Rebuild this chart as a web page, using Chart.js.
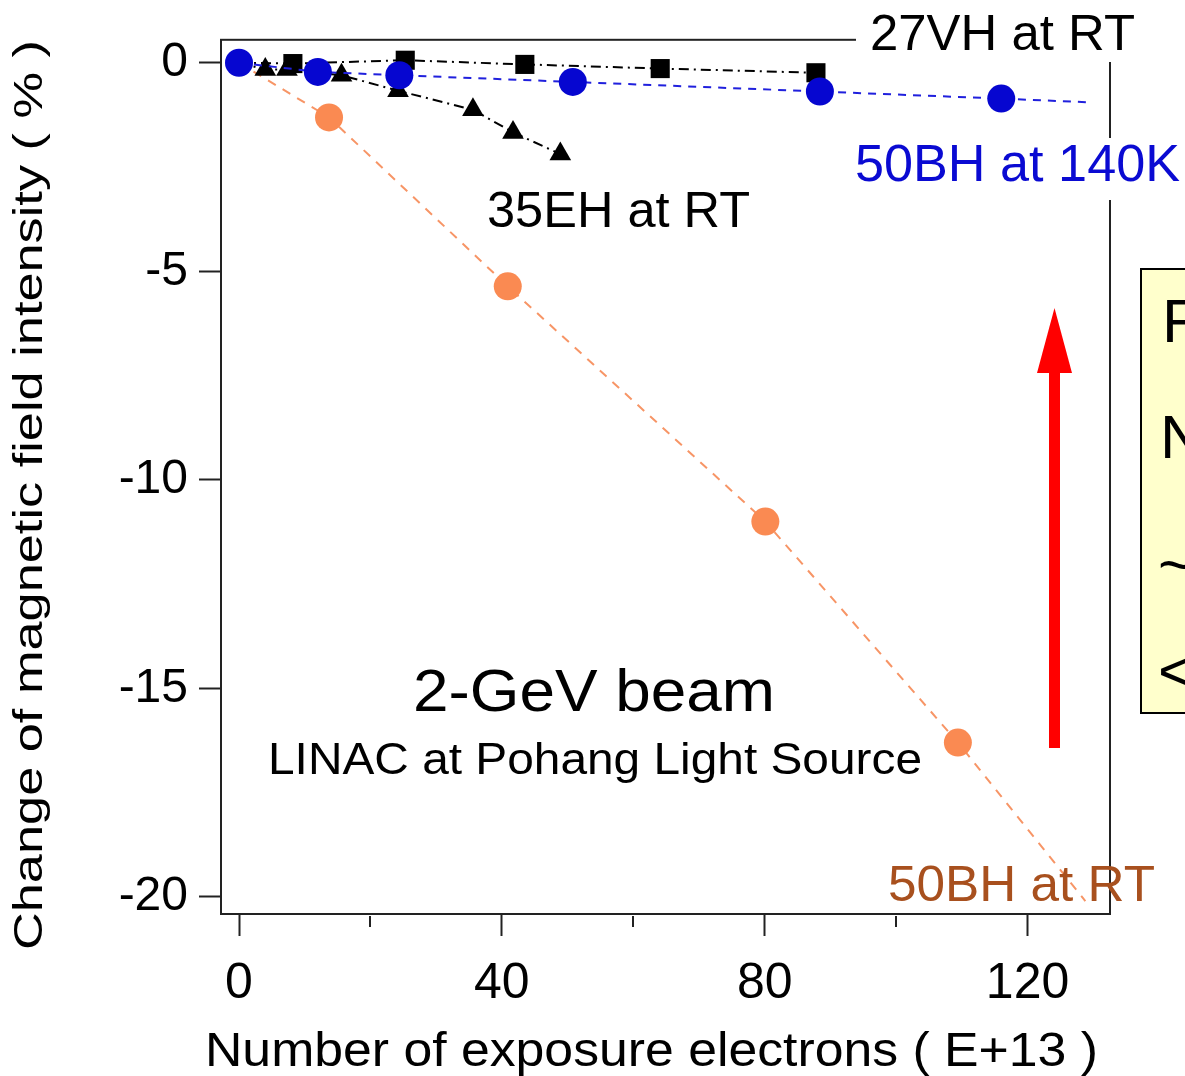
<!DOCTYPE html>
<html>
<head>
<meta charset="utf-8">
<script src="https://cdn.jsdelivr.net/npm/chart.js@4.4.1/dist/chart.umd.min.js"></script>
<style>
html,body{margin:0;padding:0;background:#fff;overflow:hidden}
canvas{display:block}
</style>
</head>
<body>
<canvas id="magChart" width="1185" height="1076"></canvas>
<script>
// exposure (E+13 electrons) vs change of field (%)
var origin = [0, 0];

var vh27X = [8.2, 25.3, 43.5, 64.1, 87.8];
var vh27Y = [-0.02, 0.06, -0.04, -0.14, -0.24];

var eh35X = [4.0, 7.3, 15.6, 24.2, 35.6, 41.7, 48.9];
var eh35Y = [-0.16, -0.16, -0.30, -0.67, -1.13, -1.67, -2.19];

var bh140X = [0, 12.0, 24.4, 50.8, 88.4, 116.0];
var bh140Y = [0, -0.22, -0.30, -0.46, -0.69, -0.86];
var bh140Tail = [129.5, -0.95];

var bhRtX = [13.7, 40.9, 80.1, 109.4];
var bhRtY = [-1.31, -5.36, -11.0, -16.3];
var bhRtTail = [128.8, -20.1];

var xTicks = [0, 40, 80, 120];
var xMinor = [20, 60, 100];
var yTicks = [0, -5, -10, -15, -20];

var FONT = '"Liberation Sans", Arial, Helvetica, sans-serif';

function pts(xs, ys) {
    var out = [];
    for (var i = 0; i < xs.length; i++) out.push({x: xs[i], y: ys[i]});
    return out;
}
function line(head, xs, ys, tail) {
    var d = [];
    if (head) d.push({x: head[0], y: head[1]});
    d = d.concat(pts(xs, ys));
    if (tail) d.push({x: tail[0], y: tail[1]});
    return d;
}
function radii(head, n, r, tail) {
    var a = [];
    if (head) a.push(0);
    for (var i = 0; i < n; i++) a.push(r);
    if (tail) a.push(0);
    return a;
}

function txt(c, s, x, y, size, width, color, align) {
    c.save();
    c.font = size + 'px ' + FONT;
    c.fillStyle = color;
    c.textBaseline = 'alphabetic';
    c.textAlign = 'left';
    var w = c.measureText(s).width;
    var sx = width ? width / w : 1;
    var left = x;
    if (align === 'center') left = x - (width || w) / 2;
    c.translate(left, y);
    c.scale(sx, 1);
    c.fillText(s, 0, 0);
    c.restore();
}

var framePlugin = {
    id: 'frame',
    beforeDatasetsDraw: function(chart) {
        var c = chart.ctx, a = chart.chartArea, xs = chart.scales.x;
        c.save();
        c.strokeStyle = '#222';
        c.lineWidth = 2;
        c.strokeRect(a.left, a.top, a.right - a.left, a.bottom - a.top);
        // minor x ticks
        xMinor.forEach(function(v) {
            var px = Math.round(xs.getPixelForValue(v));
            c.beginPath();
            c.moveTo(px, a.bottom + 2);
            c.lineTo(px, a.bottom + 13);
            c.stroke();
        });
        c.restore();
    },
    afterDraw: function(chart) {
        var c = chart.ctx;
        c.save();
        // labels that break the frame
        c.fillStyle = '#fff';
        c.fillRect(856, 0, 329, 62);
        c.fillRect(850, 138, 335, 62);
        c.restore();

        txt(c, '27VH at RT', 870, 50, 50, 265, '#000');
        txt(c, '50BH at 140K', 855, 181, 51, 325, '#0a0ad2');
        txt(c, '35EH at RT', 487, 227, 50, 263, '#000');
        txt(c, '2-GeV beam', 413, 711, 60, 362, '#000');
        txt(c, 'LINAC at Pohang Light Source', 268, 774, 45, 654, '#000');
        txt(c, '50BH at RT', 888, 901, 50, 267, '#a8501e');

        // red arrow
        c.save();
        c.fillStyle = '#ff0000';
        c.fillRect(1049, 370, 11, 378);
        c.beginPath();
        c.moveTo(1054.5, 308);
        c.lineTo(1072, 373);
        c.lineTo(1037, 373);
        c.closePath();
        c.fill();
        // yellow note box (cut by the edge of the slide)
        c.fillStyle = '#ffffcc';
        c.fillRect(1141, 269, 60, 444);
        c.strokeStyle = '#000';
        c.lineWidth = 2;
        c.strokeRect(1141, 269, 60, 444);
        c.restore();
        txt(c, 'R', 1162, 342, 62, 0, '#000');
        txt(c, 'N', 1160, 458, 62, 0, '#000');
        txt(c, '~', 1158, 586, 62, 0, '#000');
        txt(c, '<', 1158, 692, 62, 0, '#000');

        // axis titles
        c.save();
        c.font = '40px ' + FONT;
        c.fillStyle = '#000';
        var yt = 'Change of magnetic field intensity ( % )';
        var w = c.measureText(yt).width;
        c.translate(42, 950);
        c.rotate(-Math.PI / 2);
        c.scale(910 / w, 1);
        c.fillText(yt, 0, 0);
        c.restore();
        txt(c, 'Number of exposure electrons ( E+13 )', 205, 1066, 48, 893, '#000');
    }
};

var ctx = document.getElementById('magChart');
var magChart = new Chart(ctx, {
    type: 'scatter',
    data: {
        datasets: [
            {
                label: '50BH at RT',
                data: line(origin, bhRtX, bhRtY, bhRtTail),
                showLine: true,
                borderColor: '#f79566',
                borderWidth: 2,
                borderDash: [9, 8],
                backgroundColor: '#fa8a52',
                pointStyle: 'circle',
                pointRadius: radii(origin, bhRtX.length, 14, bhRtTail),
                pointBorderWidth: 0,
                clip: false,
                order: 4
            },
            {
                label: '35EH at RT',
                data: line(origin, eh35X, eh35Y, null),
                showLine: true,
                borderColor: '#000',
                borderWidth: 2,
                borderDash: [10, 5, 2, 5],
                backgroundColor: '#000',
                pointStyle: 'triangle',
                pointRadius: radii(origin, eh35X.length, 12.5, null),
                pointBorderWidth: 0,
                clip: false,
                order: 3
            },
            {
                label: '27VH at RT',
                data: line(origin, vh27X, vh27Y, null),
                showLine: true,
                borderColor: '#000',
                borderWidth: 2,
                borderDash: [10, 5, 2, 5],
                backgroundColor: '#000',
                pointStyle: 'rect',
                pointRadius: radii(origin, vh27X.length, 13.5, null),
                pointBorderWidth: 0,
                clip: false,
                order: 2
            },
            {
                label: '50BH at 140K',
                data: line(null, bh140X, bh140Y, bh140Tail),
                showLine: true,
                borderColor: '#2020dd',
                borderWidth: 2,
                borderDash: [8, 7],
                backgroundColor: '#0606d0',
                pointStyle: 'circle',
                pointRadius: radii(null, bh140X.length, 14, bh140Tail),
                pointBorderWidth: 0,
                clip: false,
                order: 1
            }
        ]
    },
    options: {
        responsive: false,
        animation: false,
        devicePixelRatio: 1,
        events: [],
        layout: {padding: {top: 37, right: 75, left: 0, bottom: 0}},
        plugins: {legend: {display: false}, tooltip: {enabled: false}},
        scales: {
            x: {
                type: 'linear',
                position: 'bottom',
                min: -2.74,
                max: 132.55,
                afterBuildTicks: function(s) { s.ticks = xTicks.map(function(v) { return {value: v}; }); },
                afterFit: function(s) { s.height = 162; },
                grid: {drawOnChartArea: false, drawTicks: true, tickLength: 22, tickWidth: 2, tickColor: '#222'},
                border: {display: false},
                ticks: {font: {family: FONT, size: 50}, color: '#000', padding: 18, maxRotation: 0, autoSkip: false}
            },
            y: {
                type: 'linear',
                min: -20.41,
                max: 0.55,
                afterBuildTicks: function(s) { s.ticks = yTicks.map(function(v) { return {value: v}; }); },
                afterFit: function(s) { s.width = 221; },
                grid: {drawOnChartArea: false, drawTicks: true, tickLength: 22, tickWidth: 2, tickColor: '#222'},
                border: {display: false},
                ticks: {font: {family: FONT, size: 48}, color: '#000', padding: 11, autoSkip: false}
            }
        }
    },
    plugins: [framePlugin]
});
</script>
</body>
</html>
